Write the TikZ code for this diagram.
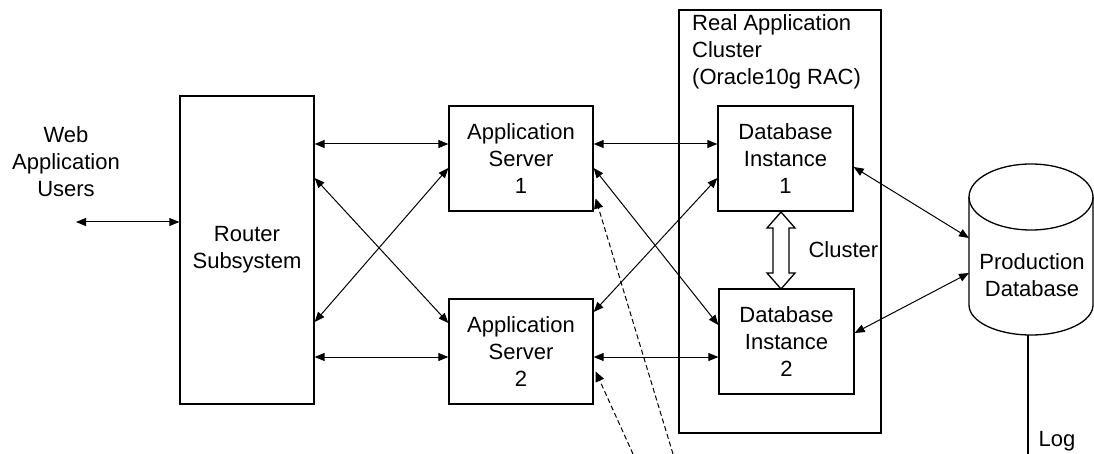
\documentclass[tikz,border=0pt]{standalone}
\usepackage{fontspec}
\setmainfont{Liberation Sans}
\usetikzlibrary{arrows.meta,calc}
\begin{document}
\begin{tikzpicture}[x=1pt,y=-1pt,
  every node/.style={font=\fontsize{22}{27}\selectfont},
  box/.style={draw,line width=1.3pt,align=center,inner sep=0pt},
  link/.style={line width=1pt,{Triangle[length=10pt,width=8pt]}-{Triangle[length=10pt,width=8pt]}},
  feed/.style={line width=1pt,dash pattern=on 5pt off 3pt,-{Triangle[length=10pt,width=9pt]}},
  plain/.style={line width=1.3pt}]
\useasboundingbox (0,0) rectangle (1094,454);

% users label
\node[align=center] (users) at (66,162) {Web\\Application\\Users};
\coordinate (uend) at (76,222);

% main boxes
\node[box,minimum width=134pt,minimum height=308pt] (router) at (247,250) {Router\\Subsystem};
\node[box,minimum width=144pt,minimum height=105pt] (as1) at (521,158.5) {Application\\Server\\1};
\node[box,minimum width=144pt,minimum height=105pt] (as2) at (521,351.5) {Application\\Server\\2};

% RAC container
\node[box,minimum width=202pt,minimum height=423pt] (rac) at (780,221.5) {};
\node[align=left,anchor=north west,inner sep=0pt] (ractitle) at (692,14)
  {Real Application\\Cluster\\(Oracle10g RAC)};
\node[box,minimum width=135pt,minimum height=105pt] (db1) at (785.5,158.5) {Database\\Instance\\1};
\node[box,minimum width=135pt,minimum height=105pt] (db2) at (786.5,341.5) {Database\\Instance\\2};

% cluster interconnect (hollow double arrow)
\draw[plain,fill=white] (781,212) -- (795,228) -- (789,228) -- (789,273) -- (795,273)
  -- (781,289) -- (767,273) -- (773,273) -- (773,228) -- (767,228) -- cycle;
\node[anchor=west] (cluster) at (805,250) {Cluster};

% production database cylinder
\draw[plain] (1031,197) ellipse [x radius=62, y radius=33];
\draw[plain] (969,197) -- (969,305) arc[start angle=180,end angle=0,x radius=62,y radius=30] -- (1093,197);
\node[align=center] (prod) at (1032,275) {Production\\Database};
\coordinate (cylA) at (969,238);
\coordinate (cylB) at (969,273);
\coordinate (cylbot) at (1028,335);
\coordinate (logend) at (1028,454);
\draw[plain] (cylbot) -- (logend);
\node[anchor=west] (log) at (1035,441) {Log};

% anchor points on boxes
\path ($(as1.west)+(0,-14.5)$) coordinate (a1h)
      ($(as2.west)+(0,5.5)$) coordinate (a2h)
      ($(router.east)+(0,-72)$) coordinate (rUp)
      ($(router.east)+(0,72)$) coordinate (rDn)
      ($(as2.west)+(0,-28.5)$) coordinate (as2x)
      ($(as1.west)+(0,9.5)$) coordinate (as1x)
      ($(as1.east)+(0,-14.5)$) coordinate (as1h)
      ($(as2.east)+(0,5.5)$) coordinate (as2h)
      ($(as1.east)+(0,9.5)$) coordinate (as1d)
      ($(db2.west)+(0,-16.5)$) coordinate (db2x)
      ($(db1.west)+(0,19.5)$) coordinate (db1x)
      ($(as2.east)+(0,-39.5)$) coordinate (as2u)
      ($(db1.east)+(0,8.5)$) coordinate (db1e)
      ($(db2.east)+(0,-8.5)$) coordinate (db2e)
      ($(as1.east)+(2,40)$) coordinate (as1f)
      ($(as2.east)+(2,20)$) coordinate (as2f);
\coordinate (feed1) at (673,454);
\coordinate (feed2) at (633,454);

% connectors
\draw[link] (uend) -- (router.west |- uend);
\draw[link] (router.east |- a1h) -- (a1h);
\draw[link] (router.east |- a2h) -- (a2h);
\draw[link] (rUp) -- (as2x);
\draw[link] (rDn) -- (as1x);
\draw[link] (as1h) -- (db1.west |- as1h);
\draw[link] (as2h) -- (db2.west |- as2h);
\draw[link] (as1d) -- (db2x);
\draw[link] (db1x) -- (as2u);
\draw[link] (db1e) -- (cylA);
\draw[link] (db2e) -- (cylB);
\draw[feed] (feed1) -- (as1f);
\draw[feed] (feed2) -- (as2f);
\end{tikzpicture}
\end{document}
